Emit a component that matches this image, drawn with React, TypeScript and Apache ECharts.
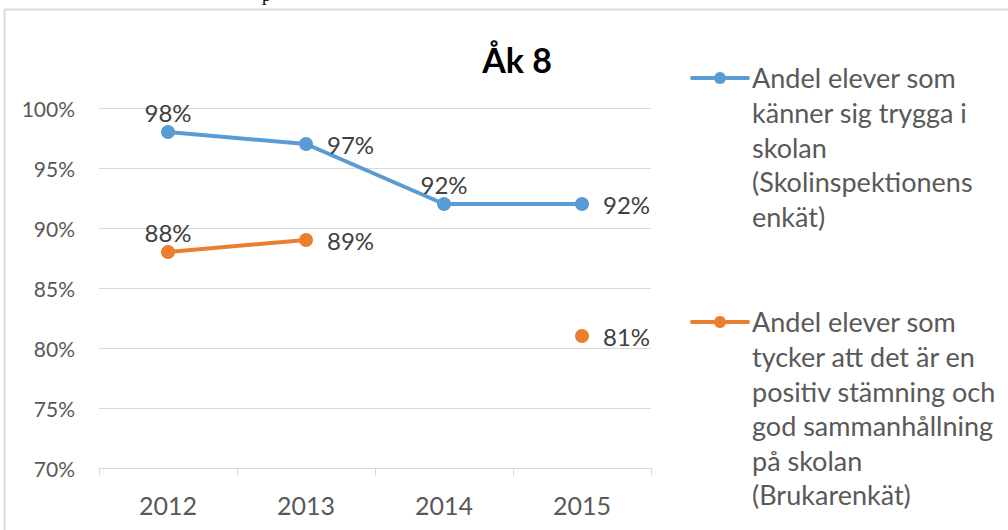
import React, { useEffect, useRef } from "react";
import * as echarts from "echarts";

const categories = ["2012", "2013", "2014", "2015"];
const seriesNames = [
  "Andel elever som\nkänner sig trygga i\nskolan\n(Skolinspektionens\nenkät)",
  "Andel elever som\ntycker att det är en\npositiv stämning och\ngod sammanhållning\npå skolan\n(Brukarenkät)",
];
const safeValues: (number | null)[] = [98, 97, 92, 92];
const moodValues: (number | null)[] = [88, 89, null, 81];
const safeLabelPos = ["top", "right", "top", "right"];
const moodLabelPos = ["top", "right", "right", "right"];
const yTicks = { min: 70, max: 100, interval: 5 };
const title = "Åk 8";
const colors = ["#5B9BD5", "#ED7D31"];

const FONT = "Lato";

export default function App() {
  const ref = useRef<HTMLDivElement>(null);
  useEffect(() => {
    if (!ref.current) return;
    const chart = echarts.init(ref.current, null, { renderer: "svg" });
    const mkData = (vals: (number | null)[], pos: string[]) =>
      vals.map((v, i) => ({
        value: v,
        label: {
          position: pos[i],
          distance: pos[i] === "top" ? 1 : 14,
        },
      }));
    const legendTops = [78, 322];
    const legendGraphics: any[] = [];
    seriesNames.forEach((name, i) => {
      const y = legendTops[i];
      legendGraphics.push(
        {
          type: "line",
          shape: { x1: 692, y1: y, x2: 748, y2: y },
          style: { stroke: colors[i], lineWidth: 4, lineCap: "round" },
        },
        {
          type: "circle",
          shape: { cx: 720, cy: y, r: 6 },
          style: { fill: colors[i] },
        },
        {
          type: "text",
          x: 752,
          y: y - 17.3,
          style: {
            text: name,
            font: `27px ${FONT}`,
            fill: "#595959",
            lineHeight: 34.6,
            textVerticalAlign: "top",
          },
        }
      );
    });
    const labelCfg = {
      show: true,
      formatter: (p: any) => `${p.value}%`,
      fontFamily: FONT,
      fontSize: 24,
      color: "#404040",
    };
    chart.setOption({
      animation: false,
      title: {
        text: title,
        left: 512,
        top: 37,
        textAlign: "center",
        textStyle: { fontFamily: FONT, fontWeight: "bold", fontSize: 34, color: "#000" },
      },
      grid: { left: 99, right: 357, top: 108, bottom: 62 },
      xAxis: {
        type: "category",
        data: categories,
        axisLine: { lineStyle: { color: "#d9d9d9", width: 1 } },
        axisTick: { show: true, length: 8, lineStyle: { color: "#d9d9d9" } },
        axisLabel: { fontFamily: FONT, fontSize: 25, color: "#595959", margin: 24 },
      },
      yAxis: {
        type: "value",
        min: yTicks.min,
        max: yTicks.max,
        interval: yTicks.interval,
        axisLine: { show: false },
        axisTick: { show: false },
        splitLine: { lineStyle: { color: "#d9d9d9", width: 1 } },
        axisLabel: {
          fontFamily: FONT,
          fontSize: 21,
          color: "#595959",
          margin: 24,
          formatter: (v: number) => `${v}%`,
        },
      },
      series: [
        {
          name: "s1",
          type: "line",
          data: mkData(safeValues, safeLabelPos),
          color: colors[0],
          lineStyle: { width: 4, color: colors[0] },
          symbol: "circle",
          symbolSize: 14,
          itemStyle: { color: colors[0] },
          label: labelCfg,
        },
        {
          name: "s2",
          type: "line",
          data: mkData(moodValues, moodLabelPos),
          color: colors[1],
          lineStyle: { width: 4, color: colors[1] },
          symbol: "circle",
          symbolSize: 14,
          itemStyle: { color: colors[1] },
          connectNulls: false,
          label: labelCfg,
        },
      ],
      graphic: [
        {
          type: "rect",
          shape: { x: 4.5, y: 9.5, width: 1200, height: 800 },
          style: { fill: "none", stroke: "#d9d9d9", lineWidth: 2 },
          silent: true,
        },
        {
          type: "text",
          x: 262,
          y: -14,
          style: { text: "p", font: "18px 'Liberation Serif'", fill: "#000", textVerticalAlign: "top" },
        },
        ...legendGraphics,
      ],
    });
    return () => chart.dispose();
  }, []);
  return (
    <div
      ref={ref}
      style={{ position: "fixed", left: 0, top: 0, width: 1008, height: 530, background: "#fff" }}
    />
  );
}
